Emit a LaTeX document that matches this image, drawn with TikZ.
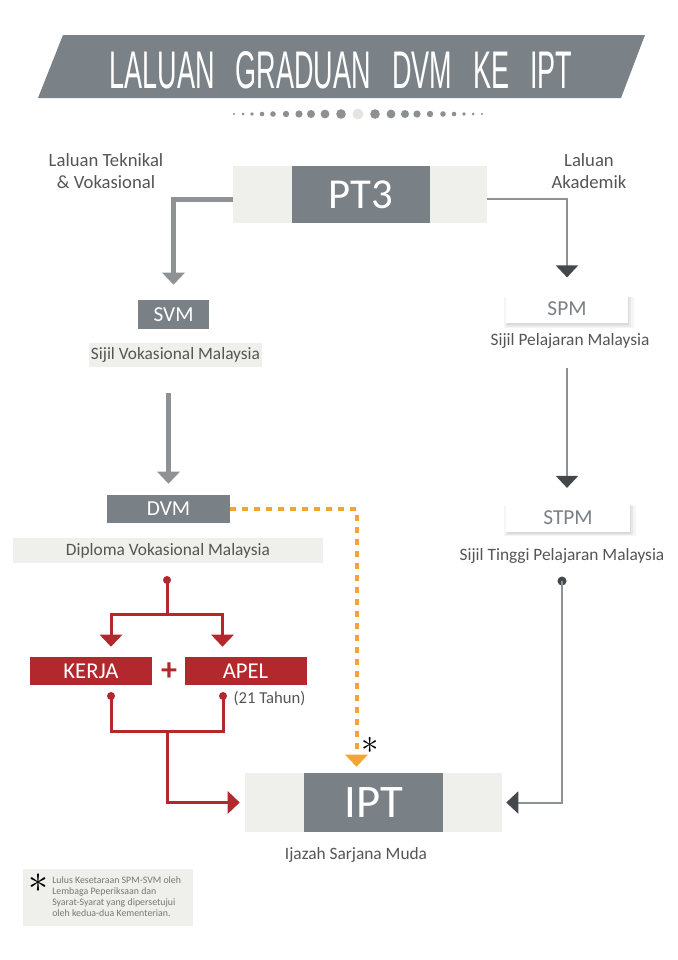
\documentclass[tikz,border=0pt]{standalone}
\usepackage{fontspec}
\setmainfont{Carlito}
\newfontfamily\titlefont{Liberation Sans}
\usetikzlibrary{arrows.meta,shadows,calc}
\definecolor{bannergray}{HTML}{7B8287}
\definecolor{boxgray}{HTML}{7A8186}
\definecolor{lightbg}{HTML}{EFEFEB}
\definecolor{linegray}{HTML}{8E9295}
\definecolor{darkhead}{HTML}{45484B}
\definecolor{redc}{HTML}{B3282D}
\definecolor{orangec}{HTML}{F0A535}
\definecolor{textgray}{HTML}{555555}
\definecolor{dotgray}{HTML}{8C9093}
\definecolor{dotlight}{HTML}{E4E4E0}
\def\bigstar#1{\scalebox{#1}{$\ast$}}

\tikzset{
  darkbox/.style={fill=boxgray, text=white, inner sep=0pt},
  lightbox/.style={fill=lightbg, inner sep=0pt},
  whitebox/.style={fill=white, text=boxgray, inner sep=0pt, minimum height=21.5pt,
    font=\fontsize{16}{16}\selectfont,
    general shadow={fill=black, opacity=.04, shadow xshift=1.5pt, shadow yshift=-2.5pt, shadow scale=1.06},
    general shadow={fill=black, opacity=.05, shadow xshift=1pt, shadow yshift=-2pt, shadow scale=1.03},
    general shadow={fill=black, opacity=.06, shadow xshift=.5pt, shadow yshift=-1.5pt}},
  redbox/.style={fill=redc, text=white, inner sep=0pt, minimum width=91.5pt,
    minimum height=21pt, font=\fontsize{17}{17}\selectfont},
  caption/.style={text=textgray, font=\fontsize{13}{15}\selectfont},
  grayarrow/.style={draw=linegray, line width=3.75pt,
    -{Triangle[width=16.5pt,length=9pt]}},
  thinarrow/.style={draw=linegray, line width=1.5pt,
    -{Triangle[width=16.5pt,length=9pt,color=darkhead]}},
  redline/.style={draw=redc, line width=2.25pt},
  redarrow/.style={redline, -{Triangle[width=16.5pt,length=9pt]}},
  orangearrow/.style={draw=orangec, line width=3pt, dash pattern=on 4.5pt off 4.5pt,
    -{Triangle[width=16.5pt,length=9pt]}},
}

\begin{document}
\begin{tikzpicture}[x=0.75pt, y=-0.75pt]
	%%%%% START %%%%%
	
	\fill[white] (0, 0) rectangle (678, 960);
	\useasboundingbox (0, 0) rectangle (678, 960);
	
	% banner
	\fill[bannergray] (63, 35) -- (645, 35) -- (621, 98) -- (38, 98) -- cycle;
	\node[text=white, font=\titlefont, inner sep=0pt] (title) at (341, 70)
		{\scalebox{0.51}[1]{\fontsize{39.75}{40}\selectfont LALUAN\hspace{.5em} GRADUAN\hspace{.5em} DVM\hspace{.5em} KE\hspace{.5em} IPT}};
	
	\foreach \d/\r in {17/4.8, 33/4.4, 47/4, 59/3.6, 72/3.2, 85/2.8, 96/2.3, 106/1.9, 115/1.5, 124/1.1} {
		\fill[dotgray] (358-\d, 114) circle[radius=\r*0.75pt];
		\fill[dotgray] (358+\d, 114) circle[radius=\r*0.75pt];
	}
	\fill[dotlight] (358, 114) circle[radius=4.1pt];
	
	% route labels
	\node[caption, align=center, font=\fontsize{14}{16.5}\selectfont] (teklabel) at (106, 171) {Laluan Teknikal\\\& Vokasional};
	\node[caption, align=center, font=\fontsize{14}{16.5}\selectfont] (akalabel) at (589, 171) {Laluan\\Akademik};
	
	% PT3
	\node[lightbox, minimum width=190.5pt, minimum height=42.75pt] (pt3bg) at (360, 194.5) {};
	\node[darkbox, minimum width=103.5pt, minimum height=42.75pt, font=\fontsize{32}{32}\selectfont] (pt3) at (361, 194.5) {PT3};
	
	% left route
	\node[darkbox, minimum width=53.25pt, minimum height=21.75pt, font=\fontsize{16}{16}\selectfont] (svm) at (173.5, 314.5) {SVM};
	\node[lightbox, caption, minimum width=129.75pt, minimum height=18pt] (svmtxt) at (175.5, 355) {Sijil Vokasional Malaysia};
	\node[darkbox, minimum width=92.25pt, minimum height=21pt, font=\fontsize{16}{16}\selectfont] (dvm) at (168.5, 509) {DVM};
	\node[lightbox, caption, minimum width=232.5pt, minimum height=18.75pt] (dvmtxt) at (168, 550.5) {Diploma Vokasional Malaysia};
	
	\node[redbox] (kerja) at (91, 671) {KERJA};
	\node[redbox] (apel) at (245.5, 671) {APEL};
	\node[text=redc, font=\bfseries\fontsize{24}{24}\selectfont, inner sep=0pt] (plus) at (169, 672) {+};
	\node[caption, font=\fontsize{12.5}{14}\selectfont] (tahun) at (269.5, 699) {(21 Tahun)};
	
	% right route
	\node[whitebox, minimum width=91.5pt] (spm) at (567, 309) {SPM};
	\node[caption] (spmtxt) at (570, 341) {Sijil Pelajaran Malaysia};
	\node[whitebox, minimum width=93pt] (stpm) at (568, 517.5) {STPM};
	\node[caption] (stpmtxt) at (562, 556) {Sijil Tinggi Pelajaran Malaysia};
	
	% IPT
	\node[lightbox, minimum width=192.75pt, minimum height=44.25pt] (iptbg) at (373.5, 802.5) {};
	\node[darkbox, minimum width=104.25pt, minimum height=44.25pt, font=\fontsize{35}{35}\selectfont] (ipt) at (373.5, 802.5) {IPT};
	\node[caption] (degree) at (356, 855) {Ijazah Sarjana Muda};
	
	% gray connectors
	\draw[grayarrow, shorten >=11.25pt] ($(pt3bg.west)+(0, 4.5)$) -| (svm.north);
	\draw[thinarrow, shorten >=12.75pt] ($(pt3bg.east)+(0, 4.5)$) -| (spm.north);
	\draw[grayarrow, shorten <=19.5pt, shorten >=8.25pt] (svmtxt.south -| dvm.north) -- (dvm.north);
	\draw[thinarrow, shorten <=33pt, shorten >=11.25pt] (spm.south) -- (spm.south |- stpm.north);
	
	\coordinate (stpmdot) at (562, 581);
	\fill[darkhead] (stpmdot) circle[radius=3.4pt];
	\draw[thinarrow, shorten >=3pt] (stpmdot) |- (iptbg.east);
	
	% red connectors
	\coordinate (dvmdot) at (167, 580);
	\coordinate (split) at (167, 614);
	\fill[redc] (dvmdot) circle[radius=3pt];
	\draw[redline] (dvmdot) -- (split);
	\draw[redarrow, shorten >=7.5pt] (split) -| ([xshift=15pt]kerja.north);
	\draw[redarrow, shorten >=7.5pt] (split) -| ([xshift=-17.25pt]apel.north);
	
	\coordinate (kerjadot) at (111, 696);
	\coordinate (apeldot) at (223, 696);
	\coordinate (join) at (167, 731);
	\fill[redc] (kerjadot) circle[radius=3pt];
	\fill[redc] (apeldot) circle[radius=3pt];
	\draw[redline] (kerjadot) |- (join -| apeldot) -- (apeldot);
	\draw[redarrow, shorten >=3.75pt] (join) |- (iptbg.west);
	
	% orange connector
	\draw[orangearrow, shorten >=4.5pt] (dvm.east) -| ($(iptbg.north)+(-17, 0)$);
	\node[inner sep=0pt] (mark) at (370, 745) {\bigstar{2.6}};
	
	% footnote
	\node[lightbox, minimum width=127.5pt, minimum height=42.75pt] (notebg) at (108, 897.5) {};
	\node[inner sep=0pt] (notestar) at (38, 883) {\bigstar{3}};
	\node[anchor=north west, align=left, text=textgray!80, font=\fontsize{7.4}{8.25}\selectfont, inner sep=0pt] (notetxt) at (52, 876)
		{Lulus Kesetaraan SPM-SVM oleh\\Lembaga Peperiksaan dan\\Syarat-Syarat yang dipersetujui\\oleh kedua-dua Kementerian.};
	
	%%%%% END %%%%%
\end{tikzpicture}
\end{document}
